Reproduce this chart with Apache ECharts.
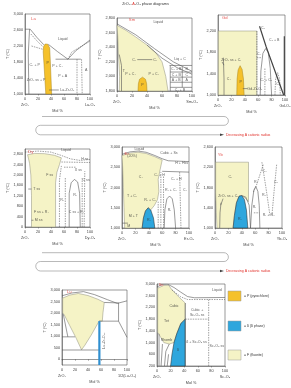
<!DOCTYPE html>
<html>
<head>
<meta charset="utf-8">
<script src="https://cdn.jsdelivr.net/npm/echarts@6/dist/echarts.min.js"></script>
<style>
html,body{margin:0;padding:0;background:#fff;}
#chart{width:291px;height:388px;}
</style>
</head>
<body>
<div id="chart"></div>
<script>
// tick labels
const xTicks = [0, 20, 40, 60, 80, 100];
const laTicks = [1000, 1400, 1800, 2200, 2600, 3000];
const smTicks = [1800, 2000, 2200, 2400, 2600, 2800];
const gdTicks = [1000, 1400, 1800, 2200];
const dyTicks = [0, 400, 800, 1200, 1600, 2000, 2400, 2800];
const erTicks = [1000, 1500, 2000, 2500, 3000];
const ybTicks = [1000, 1400, 1800, 2200, 2600];
const luTicks = [0, 500, 1000, 1500, 2000, 2500, 3000];
const scTicks = [200, 600, 1000, 1400, 1800, 2200, 2600, 3000];

// La
const laPyro = [[32,1000],[30.5,1400],[29,1800],[28,2050],[28.5,2180],[31,2250],[35,2245],[38,2150],[39,1800],[40,1400],[41,1000]];
const laSolid = [
  [[0,2620],[8,2620],[18,2420],[29,2230]],
  [[36,2240],[50,2060],[66,1870],[78,2080],[100,2350]],
  [[47,1870],[86,1870]],
  [[7,2620],[5,2000],[6,1000]],
  [[52,1100],[37,1100]]
];
const laDashed = [
  [[80,1870],[80,1000]],
  [[87,1870],[88,1000]],
  [[9,2500],[20,2300],[28,2180]],
  [[10,2200],[27,2120]],
  [[66,1870],[72,2050],[100,2320]]
];
const laLabels = [[58,2380,'Liquid'],[35,1780,'P'],[15,1720,'C₁ + P'],[50,1700,'P + C₁'],[58,1450,'P + A'],[17,1340,'ZrO₂ ss + P'],[65,1100,'La₂Zr₂O₇'],[94,1600,'A']];

// Sm
const smFluorite = [[3,1800],[3.5,2000],[2,2300],[1,2550],[0,2700],[12,2630],[25,2540],[40,2430],[52,2320],[60,2200],[65,2000],[68,1800]];
const smPyro = [[28,1800],[28.5,1900],[30,1960],[34,1990],[38,1960],[39.5,1900],[40,1800]];
const smSolid = [
  [[0,2720],[25,2570],[50,2380],[75,2200],[100,2070]],
  [[40,2430],[60,2250],[80,2120],[100,2030]],
  [[27,2230],[47,2230]],
  [[70,2150],[100,2150]],
  [[71,2060],[100,2060]],
  [[71,1990],[100,1990]],
  [[71,1920],[100,1920]],
  [[71,1850],[100,1850]],
  [[71,1800],[71,2150]],
  [[87,1850],[87,2130]],
  [[6,1800],[6,2150],[3,2300]]
];
const smDashed = [];
const smLabels = [[55,2740,'Liquid'],[23,2230,'C₁'],[51,2230,'C₁'],[18,2030,'P + C₁'],[49,2030,'P + C₁'],[34,1880,'P'],[84,2240,'Liq + C'],[9,2080,'T'],[79,2100,'C₁ + B'],[93,2100,'B'],[79,2025,'C + B'],[93,2025,'C'],[79,1955,'A + B'],[93,1955,'A'],[84,1820,'C₁ + B']];

// Gd
const gdFluorite = [[0.5,1000],[0.5,2200],[58,2200],[58,1000]];
const gdPyro = [[28,1000],[28.5,1300],[30,1470],[33,1550],[36,1480],[38,1300],[39,1000]];
const gdSolid = [
  [[9,1000],[9,1300],[8,1700]],
  [[63,1000],[64,1450],[67,1780],[71,1870],[75,1800],[78,1500],[80,1000]],
  [[44,1120],[37,1120]],
  [[6,1620],[9,1560]]
];
const gdThick = [[[62,2290],[72,1900],[85,1450],[98,1000]],[[99,1000],[99,2100]]];
const gdDashed = [[[58,2200],[58,1000]],[[85,1000],[86,1300],[89,1420],[92,1300],[93,1000]],[[70,1000],[70,1500]],[[58,1700],[64,1700]]];
const gdLabels = [[20,1650,'ZrO₂ ss + C₁'],[16,1300,'C₁'],[34,1250,'P'],[55,1120,'Gd₂Zr₂O₇'],[67,2250,'C₂'],[84,2030,'C₂ + B'],[72,1290,'C₁ + C₂'],[90,1200,'C₂'],[61,1760,'C₁']];

// Dy
const dyFluorite = [[10,0],[10,1200],[9,2000],[7,2450],[4,2780],[15,2830],[30,2820],[45,2760],[56,2660],[53,2400],[49,2100],[47,1700],[47,0]];
const dySolid = [
  [[68,0],[68,1300],[71,1700],[76,1830],[81,1730],[84,1300],[85,0]],
  [[5,1460],[10,1460]],
  [[13,260],[10,260]]
];
const dyDashed = [
  [[0,2880],[20,2920],[40,2880],[55,2760],[70,2620],[85,2560],[100,2600]],
  [[56,2500],[100,2480]],
  [[60,2300],[78,2300]],
  [[53,0],[53,1800],[56,2350]],
  [[62,0],[62,1900]],
  [[88,0],[88,1900]],
  [[91,0],[92,2150]]
];
const dyLabels = [[63,2950,'Liquid'],[92,2620,'H ss'],[82,2180,'X ss'],[38,2000,'F ss'],[18,1460,'T ss'],[21,260,'M ss'],[25,560,'F ss + R₁'],[79,560,'C ss + R₁'],[77,1250,'R₁'],[94,1800,'C ss'],[57,1050,'R₁']];

// Er
const erLiquidus = [[0,2820],[12,2880],[24,2900],[36,2870],[49,2790],[60,2710],[69,2660],[100,2640]];
const erFluorite = [[4,1000],[3,1500],[2,2000],[1,2500],[0,2790],[12,2850],[24,2870],[36,2840],[49,2760],[60,2680],[57,2450],[54,2200],[55,1900],[53,1700],[48,1550],[43,1450],[39,1500],[35,1420],[32,1250],[30,1000]];
const erDelta = [[30,1000],[32,1250],[35,1420],[39,1500],[43,1440],[47,1250],[49,1000]];
const erSolid = [
  erLiquidus,
  [[63,1000],[64,1450],[67,1720],[71,1790],[75,1720],[78,1450],[80,1000]],
  [[60,2400],[100,2380]],
  [[0,1120],[9,1120]]
];
const erDashed = [[[54,1000],[54,1650]],[[58,1000],[58,2380]],[[62,1000],[62,2300]],[[86,2380],[88,1000]]];
const erLabels = [[26,2960,'Liquid'],[15,2770,'(20%)'],[70,2850,'Cubic + Ss'],[89,2600,'H + Hss'],[28,2250,'C₁'],[56,2300,'C₁ + H'],[81,2200,'C₂ + H'],[94,1950,'C₁'],[73,1950,'R₁ + C₁'],[15,1800,'T + C₁'],[42,1680,'R₁ + C₁'],[17,1300,'M + T'],[10,1060,'M'],[40,1200,'R₁'],[71,1450,'R₁']];

// Yb
const ybFluorite = [[3,1000],[2,1300],[1,1700],[1,2300],[50,2300],[50,1520],[45,1590],[40,1640],[36,1630],[32,1500],[29,1250],[27,1000]];
const ybDelta = [[27,1000],[29,1250],[32,1500],[36,1630],[40,1640],[44,1560],[47,1350],[49,1000]];
const ybSolid = [
  [[40,1640],[46,1610],[51,1450],[53,1000]],
  [[7,1000],[7.5,1300],[9,1500]],
  [[53,1000],[55,1450],[58,1750],[61,1820],[64,1720],[66,1450],[67,1000]],
  [[12,1580],[8.5,1450]]
];
const ybDashed = [[[72,2250],[62,1850],[57,1700]],[[70,2300],[76,1800],[82,1250]],[[92,2250],[88,1700],[85,1250]],[[58,1300],[66,1300]]];
const ybLabels = [[23,2000,'C₁'],[20,1630,'ZrO₂ ss + C₁'],[37,1180,'R₁'],[74,2130,'C₂'],[61,1900,'R₁'],[73,1650,'R₂'],[80,1250,'R₁ + R₂'],[91,1900,'C₂'],[59,1420,'R₁']];

// Lu
const luFluorite = [[1,2650],[12,2780],[25,2850],[40,2760],[55,2600],[65,2460],[63,2000],[62,1650],[57,1650],[45,1050],[35,600],[30,410],[22,900],[12,1450],[3,1950],[1,2000]];
const luLiquidus = [[0,2750],[15,2870],[33,2930],[50,2800],[70,2580],[85,2420],[100,2530]];
const luSolid = [luLiquidus,[[65,2460],[87,2440]],[[87,2440],[87,1650],[100,950]],[[57,1650],[87,1650]],[[0,400],[57,400]],[[0,970],[20,970]],[[2,1950],[9,970]]];
const luDelta = [[57.5,-250],[57.5,1650]];
const luVertLabels = [[64,800,'Lu₄Zr₃O₁₂']];

// Sc
const scFluorite = [[1,2860],[10,2950],[17,2960],[22,2800],[32,2560],[41.5,2350],[41.5,1800],[35,1650],[29,1300],[25,1000],[18,950],[10,1000],[5,1200],[1,1350]];
const scDelta = [[41.5,1800],[35,1650],[29,1300],[25,1000],[22,600],[20,200],[41.5,200]];
const scSolid = [[[0,2900],[8,2990],[15,3000],[25,2880],[35,2720],[45,2570],[55,2530],[100,2540]],[[41.5,2350],[41.5,200]],[[3,200],[3,1300]],[[6,200],[8,950]],[[11,200],[13,700],[18,950]],[[15,200],[17,600]]];
const scDashed = [[[22,2800],[35,2560],[45,2470],[100,2470]],[[76,2470],[76,200]],[[41.5,1800],[76,1800]]];
const scLabels = [[88,2780,'Liquid'],[25,2250,'Cubic'],[59,2120,'Cubic +'],[59,1950,'Sc₂O₃ ss'],[14,1720,'Tet'],[14,1080,'Rhomb'],[31,750,'δ'],[58,1030,'δ + Sc₂O₃ ss'],[88,900,'Sc₂O₃ ss']];

const FLUO = '#f5f3c6', PYRO = '#f5c12b', DELTA = '#2ea6dd', LINE = '#555', RED = '#e0302a', TXT = '#333';
const FONT = 'Liberation Sans, Arial, sans-serif';

const panels = [
  {tag:'La', tagAt:[13,2870], left:25, top:14, w:65, h:80, yMin:1000, yMax:3000, step:400, ticks:laTicks, oxide:'La₂O₃', yGap:15,
   pyro:laPyro, solid:laSolid, dashed:laDashed, labels:laLabels},
  {tag:'Sm', tagAt:[20,2770], left:117, top:18, w:75, h:73, yMin:1800, yMax:2800, step:200, ticks:smTicks, oxide:'Sm₂O₃', yGap:9,
   fluorite:smFluorite, pyro:smPyro, solid:smSolid, dashed:smDashed, labels:smLabels},
  {tag:'Gd', tagAt:[10,2440], left:218, top:15, w:67, h:80, yMin:1000, yMax:2500, step:100, ticks:gdTicks, oxide:'Gd₂O₃', yGap:12,
   fluorite:gdFluorite, pyro:gdPyro, solid:gdSolid, thick:gdThick, dashed:gdDashed, labels:gdLabels},
  {tag:'Dy', tagAt:[9,2900], left:25, top:149, w:65, h:78, yMin:0, yMax:3000, step:200, ticks:dyTicks, oxide:'Dy₂O₃', yGap:15,
   fluorite:dyFluorite, solid:dySolid, dashed:dyDashed, labels:dyLabels},
  {tag:'Er', tagAt:[7,2830], left:122, top:147, w:67, h:81, yMin:1000, yMax:3000, step:500, ticks:erTicks, oxide:'Er₂O₃', yGap:11,
   fluorite:erFluorite, delta:erDelta, solid:erSolid, dashed:erDashed, labels:erLabels},
  {tag:'Yb', tagAt:[8,2450], left:215, top:147, w:67, h:81, yMin:1000, yMax:2600, step:400, ticks:ybTicks, oxide:'Yb₂O₃', yGap:12,
   fluorite:ybFluorite, delta:ybDelta, solid:ybSolid, dashed:ybDashed, labels:ybLabels},
  {tag:'Lu', tagAt:[11,2930], left:62, top:290, w:65, h:75, yMin:-250, yMax:3000, step:250, ticks:luTicks, oxide:'1/2(Lu₂O₃)', yGap:12,
   fluorite:luFluorite, solid:luSolid, blueLine:luDelta, vlabels:luVertLabels},
  {tag:'Sc', tagAt:[6,2960], left:157, top:284, w:68, h:82, yMin:200, yMax:3000, step:400, ticks:scTicks, oxide:'Sc₂O₃', yGap:11,
   fluorite:scFluorite, delta:scDelta, solid:scSolid, dashed:scDashed, labels:scLabels}
];

function polySeries(i, pts, fill, stroke, z) {
  return {
    type:'custom', xAxisIndex:i, yAxisIndex:i, z:z, silent:true, data:pts,
    renderItem: function (params, api) {
      if (params.dataIndex !== 0) return null;
      return {type:'polygon', shape:{points: pts.map(p => api.coord(p))},
              style:{fill:fill, stroke:stroke, lineWidth:0.5}};
    }
  };
}
function lineSeries(i, pts, color, width, type, z) {
  return {type:'line', xAxisIndex:i, yAxisIndex:i, data:pts, symbol:'none', silent:true, z:z || 3,
          lineStyle:{color:color, width:width, type:type}};
}
function textSeries(i, rows, color, size, rotate) {
  return {type:'scatter', xAxisIndex:i, yAxisIndex:i, silent:true, z:5, symbolSize:1,
          itemStyle:{color:'rgba(0,0,0,0)'},
          data: rows.map(r => ({value:[r[0], r[1]], name:r[2]})),
          label:{show:true, position:'inside', formatter:'{b}', fontSize:size, color:color, fontFamily:FONT, rotate:rotate || 0}};
}

const option = {animation:false, grid:[], xAxis:[], yAxis:[], series:[], graphic:[]};
const axisText = {fontSize:3.8, color:'#444', fontFamily:FONT};

panels.forEach((p, i) => {
  option.grid.push({left:p.left, top:p.top, width:p.w, height:p.h, show:true, borderColor:'#555', borderWidth:0.6,
                    containLabel:false, outerBoundsMode:'none'});
  option.xAxis.push({
    type:'value', gridIndex:i, min:0, max:100, interval:20,
    name:'Mol %', nameLocation:'middle', nameGap:10, nameTextStyle:axisText,
    axisLine:{lineStyle:{color:'#555', width:0.6}},
    axisTick:{length:1.5, lineStyle:{width:0.5}},
    splitLine:{show:false},
    axisLabel:Object.assign({margin:2, lineHeight:6,
      formatter: v => !xTicks.includes(v) ? '' : v === 0 ? '0\nZrO₂' : v === 100 ? '100\n' + p.oxide : String(v)}, axisText)
  });
  option.yAxis.push({
    type:'value', gridIndex:i, min:p.yMin, max:p.yMax, interval:p.step,
    name:'T (°C)', nameLocation:'middle', nameGap:p.yGap, nameRotate:90, nameTextStyle:axisText,
    axisLine:{show:true, lineStyle:{color:'#555', width:0.6}},
    axisTick:{show:false},
    splitLine:{show:false},
    axisLabel:Object.assign({margin:2, formatter: v => p.ticks.includes(v) ? v.toLocaleString('en-US') : ''}, axisText)
  });
  if (p.fluorite) option.series.push(polySeries(i, p.fluorite, FLUO, '#8c8c7a', 1));
  if (p.pyro) option.series.push(polySeries(i, p.pyro, PYRO, '#a8841c', 2));
  if (p.delta) option.series.push(polySeries(i, p.delta, DELTA, '#222', 2));
  (p.solid || []).forEach(l => option.series.push(lineSeries(i, l, LINE, 0.6, 'solid')));
  (p.thick || []).forEach(l => option.series.push(lineSeries(i, l, '#444', 1.2, 'solid')));
  (p.dashed || []).forEach(l => option.series.push(lineSeries(i, l, LINE, 0.55, [1.5, 1])));
  if (p.blueLine) option.series.push(lineSeries(i, p.blueLine, '#2f8fd0', 2.2, 'solid', 4));
  if (p.labels) option.series.push(textSeries(i, p.labels, TXT, 3.6));
  if (p.vlabels) option.series.push(textSeries(i, p.vlabels, TXT, 3.8, 90));
  option.series.push(textSeries(i, [[p.tagAt[0], p.tagAt[1], p.tag]], RED, 4.2));
});

// title
option.graphic.push({type:'text', x:145.5, y:4, style:{
  text:'{a|ZrO₂–}{r|A}{a|₂O₃ phase diagrams}', fontFamily:FONT, align:'center', verticalAlign:'middle',
  rich:{a:{fontSize:3.8, fill:'#333'}, r:{fontSize:3.8, fill:RED}}}});

// "decreasing radius" connectors
function bracket(dy) {
  const y1 = 116.5 + dy, y2 = 125.3 + dy, y3 = 134.8 + dy;
  const st = {fill:null, stroke:'#8a8a8a', lineWidth:0.6};
  return [
    {type:'line', shape:{x1:42, y1:y1, x2:224, y2:y1}, style:st},
    {type:'arc', shape:{cx:224, cy:(y1 + y2) / 2, r:(y2 - y1) / 2, startAngle:-Math.PI / 2, endAngle:Math.PI / 2, clockwise:true}, style:st},
    {type:'line', shape:{x1:224, y1:y2, x2:40.5, y2:y2}, style:st},
    {type:'arc', shape:{cx:40.5, cy:(y2 + y3) / 2, r:(y3 - y2) / 2, startAngle:Math.PI / 2, endAngle:Math.PI * 1.5, clockwise:true}, style:st},
    {type:'line', shape:{x1:40.5, y1:y3, x2:221, y2:y3}, style:st},
    {type:'polygon', shape:{points:[[220,y3 - 1.3],[224,y3],[220,y3 + 1.3]]}, style:{fill:'#444'}},
    {type:'text', x:226, y:y3, style:{text:'Decreasing A cationic radius', fontSize:3.5, fill:RED,
      fontFamily:FONT, verticalAlign:'middle'}}
  ];
}
option.graphic.push(...bracket(0), ...bracket(136.2));

// legend
const legendRows = [[PYRO, 291, '= P (pyrochlore)'], [DELTA, 321, '= δ (δ phase)'], [FLUO, 350, '= F (fluorite)']];
legendRows.forEach(r => {
  option.graphic.push({type:'rect', shape:{x:228, y:r[1], width:13, height:10}, style:{fill:r[0], stroke:'#999', lineWidth:0.5}});
  option.graphic.push({type:'text', x:244, y:r[1] + 5, style:{text:r[2], fontSize:3.5, fill:'#333', fontFamily:FONT, verticalAlign:'middle'}});
});

const chart = echarts.init(document.getElementById('chart'), null, {renderer:'canvas'});
chart.setOption(option);
</script>
</body>
</html>
